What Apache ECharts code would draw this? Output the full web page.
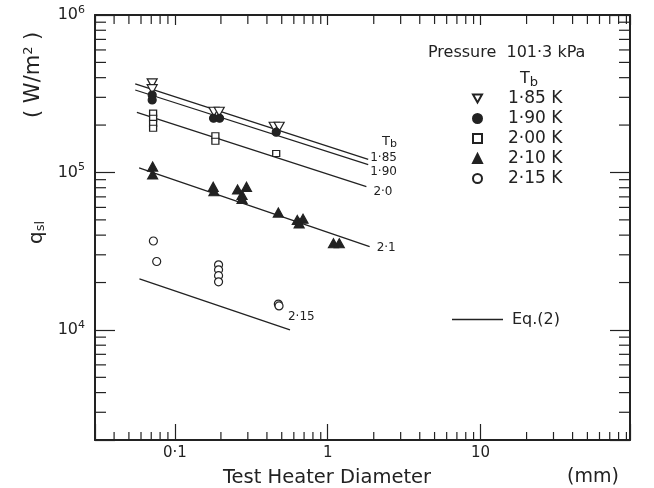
<!DOCTYPE html>
<html>
<head>
<meta charset="utf-8">
<script src="https://cdn.jsdelivr.net/npm/echarts@6/dist/echarts.min.js"></script>
<style>
  html, body { margin: 0; padding: 0; background: #fff; }
  #chart { width: 654px; height: 488px; }
</style>
</head>
<body>
<div id="chart"></div>
<script>
// axis ranges (mm, W/m2)
var xMin = 0.03, xMax = 95, yMin = 2000, yMax = 1e6;

// measured points [diameter mm, q W/m2]
var t185 = [[0.071, 3.68e5], [0.071, 3.38e5], [0.18, 2.43e5], [0.195, 2.43e5], [0.446, 1.95e5], [0.481, 1.95e5]];
var t190 = [[0.071, 3.1e5], [0.071, 2.89e5], [0.179, 2.21e5], [0.196, 2.21e5], [0.46, 1.8e5]];
var t200 = [[0.072, 2.38e5], [0.072, 2.21e5], [0.072, 2.05e5], [0.072, 1.91e5], [0.184, 1.71e5], [0.184, 1.58e5], [0.46, 1.32e5]];
var t210 = [[0.0715, 1.09e5], [0.0715, 9.7e4], [0.178, 8.1e4], [0.18, 7.6e4], [0.257, 7.8e4], [0.294, 8.1e4],
            [0.275, 7.2e4], [0.275, 6.8e4], [0.475, 5.56e4], [0.632, 4.99e4], [0.689, 5.09e4], [0.65, 4.75e4],
            [1.09, 3.55e4], [1.19, 3.55e4]];
var t215 = [[0.0723, 3.67e4], [0.076, 2.72e4], [0.193, 2.59e4], [0.193, 2.41e4], [0.193, 2.21e4], [0.193, 2.02e4],
            [0.475, 1.46e4], [0.48, 1.42e4]];

// Eq.(2) lines, end points
var line185 = [[0.055, 3.65e5], [1.84, 1.21e5]];
var line190 = [[0.055, 3.34e5], [1.84, 1.12e5]];
var line200 = [[0.0564, 2.41e5], [1.79, 8.13e4]];
var line210 = [[0.0583, 1.07e5], [1.88, 3.38e4]];
var line215 = [[0.0586, 2.11e4], [0.566, 1.0e4]];

var legendNames = ["1·85 K", "1·90 K", "2·00 K", "2·10 K", "2·15 K"];
var lineLabels = ["1·85", "1·90", "2·0", "2·1", "2·15"];

var FONT = "DejaVu Sans";
var INK = "#222";

// minor tick values 2..9 x 10^n inside the range
function minorTicks(lo, hi) {
  var out = [];
  for (var e = -3; e <= 7; e++) {
    for (var k = 2; k <= 9; k++) {
      var v = k * Math.pow(10, e);
      if (v > lo * 1.0001 && v < hi * 0.9999) out.push(v);
    }
  }
  return out;
}
var xMinor = minorTicks(xMin, xMax);
var yMinor = minorTicks(yMin, yMax);

function isDecade(v) {
  var l = Math.log10(v);
  return Math.abs(l - Math.round(l)) < 1e-6;
}

var myChart = echarts.init(document.getElementById("chart"));

function tickLine(x1, y1, x2, y2) {
  return { type: "line", shape: { x1: x1, y1: y1, x2: x2, y2: y2 }, style: { stroke: INK, lineWidth: 1.2 } };
}

var lineSeries = [line185, line190, line200, line210, line215].map(function (d, i) {
  var offs = [[0, -2], [0, 7], [5, 5], [5, 1], [-4, -13]];
  return {
    type: "line",
    name: "Eq.(2)",
    data: d,
    symbol: "none",
    lineStyle: { color: INK, width: 1.3 },
    itemStyle: { color: INK },
    endLabel: {
      show: true,
      formatter: lineLabels[i],
      distance: 2,
      offset: offs[i],
      fontFamily: FONT,
      fontSize: 12,
      color: INK
    },
    z: 2
  };
});

var scatterStyle = [
  { symbol: "path://M0,0 L10,0 L5,9 Z", size: [10, 9], fill: "#fff" },
  { symbol: "circle", size: 8, fill: INK },
  { symbol: "rect", size: [7, 6], fill: "#fff" },
  { symbol: "triangle", size: [10, 9], fill: INK },
  { symbol: "circle", size: 8, fill: "#fff" }
];
var scatterSeries = [t185, t190, t200, t210, t215].map(function (d, i) {
  var s = scatterStyle[i];
  return {
    type: "scatter",
    name: legendNames[i],
    data: d,
    symbol: s.symbol,
    symbolSize: s.size,
    itemStyle: { color: s.fill, borderColor: INK, borderWidth: 1.2, opacity: 1 },
    z: 3
  };
});

var option = {
  animation: false,
  backgroundColor: "#fff",
  grid: { left: 95, right: 24, top: 15, bottom: 48 },
  xAxis: [
    {
      type: "log", min: xMin, max: xMax,
      axisLine: { lineStyle: { color: INK, width: 2 } },
      axisTick: { inside: true, length: 16, lineStyle: { color: INK, width: 1.2 } },
      axisLabel: {
        margin: 6, fontFamily: FONT, fontSize: 15, color: INK,
        formatter: function (v) { return isDecade(v) && v < 50 ? String(v).replace(".", "·") : ""; }
      },
      splitLine: { show: false }
    },
    {
      type: "log", min: xMin, max: xMax, position: "top",
      axisLine: { lineStyle: { color: INK, width: 2 } },
      axisTick: { inside: true, length: 10, lineStyle: { color: INK, width: 1.2 } },
      axisLabel: { show: false },
      splitLine: { show: false }
    }
  ],
  yAxis: [
    {
      type: "log", min: yMin, max: yMax,
      axisLine: { lineStyle: { color: INK, width: 2 } },
      axisTick: { inside: true, length: 20, lineStyle: { color: INK, width: 1.2 } },
      axisLabel: {
        margin: 10, fontFamily: FONT, fontSize: 16, color: INK,
        formatter: function (v) { return isDecade(v) ? "10{s|" + Math.round(Math.log10(v)) + "}" : ""; },
        rich: { s: { fontFamily: FONT, fontSize: 11, color: INK, padding: [0, 0, 10, 0] } }
      },
      splitLine: { show: false }
    },
    {
      type: "log", min: yMin, max: yMax, position: "right",
      axisLine: { lineStyle: { color: INK, width: 2 } },
      axisTick: { inside: true, length: 20, lineStyle: { color: INK, width: 1.2 } },
      axisLabel: { show: false },
      splitLine: { show: false }
    }
  ],
  legend: [
    {
      data: legendNames,
      orient: "vertical",
      left: 467, top: 85,
      itemWidth: 9, itemHeight: 9, itemGap: 3,
      selectedMode: false,
      textStyle: { fontFamily: FONT, fontSize: 17, lineHeight: 17, color: INK, padding: [0, 0, 0, 21] }
    },
    {
      data: [{ name: "Eq.(2)", icon: "rect" }],
      left: 447, top: 306,
      itemWidth: 51, itemHeight: 1.4,
      selectedMode: false,
      textStyle: { fontFamily: FONT, fontSize: 16, lineHeight: 17, color: INK, padding: [0, 0, 0, 4] }
    }
  ],
  graphic: [
    { type: "text", left: 428, top: 45, style: { text: "Pressure  101·3 kPa", font: "16px " + FONT, fill: INK } },
    {
      type: "text", left: 520, top: 71,
      style: { text: "T{b|b}", font: "16px " + FONT, fill: INK,
               rich: { b: { fontFamily: FONT, fontSize: 13, fill: INK, padding: [8, 0, 0, 0] } } }
    },
    {
      type: "text", left: 382, top: 135,
      style: { text: "T{b|b}", font: "13px " + FONT, fill: INK,
               rich: { b: { fontFamily: FONT, fontSize: 11, fill: INK, padding: [6, 0, 0, 0] } } }
    },
    { type: "text", left: 223, top: 468, style: { text: "Test Heater Diameter", font: "19.5px " + FONT, fill: INK } },
    { type: "text", left: 567, top: 468, style: { text: "(mm)", font: "19px " + FONT, fill: INK } },
    {
      type: "text", x: 22, y: 118, rotation: Math.PI / 2,
      style: { text: "( W/m{s|2} )", font: "21px " + FONT, fill: INK,
               rich: { s: { fontFamily: FONT, fontSize: 13, fill: INK, padding: [0, 0, 11, 0] } } }
    },
    {
      type: "text", x: 26, y: 244, rotation: Math.PI / 2,
      style: { text: "q{s|sl}", font: "20px " + FONT, fill: INK,
               rich: { s: { fontFamily: FONT, fontSize: 13, fill: INK, padding: [8, 0, 0, 0] } } }
    }
  ],
  series: lineSeries.concat(scatterSeries).concat([
    {
      type: "custom",
      silent: true,
      data: xMinor.map(function (v) { return [v, yMin]; }),
      renderItem: function (params, api) {
        var cs = params.coordSys;
        var x = api.coord([api.value(0), yMin])[0];
        return { type: "group", children: [
          tickLine(x, cs.y + cs.height, x, cs.y + cs.height - 8),
          tickLine(x, cs.y, x, cs.y + 9)
        ] };
      },
      z: 4
    },
    {
      type: "custom",
      silent: true,
      data: yMinor.map(function (v) { return [xMin, v]; }),
      renderItem: function (params, api) {
        var cs = params.coordSys;
        var y = api.coord([xMin, api.value(1)])[1];
        return { type: "group", children: [
          tickLine(cs.x, y, cs.x + 11, y),
          tickLine(cs.x + cs.width, y, cs.x + cs.width - 11, y)
        ] };
      },
      z: 4
    }
  ])
};

myChart.setOption(option);
</script>
</body>
</html>
